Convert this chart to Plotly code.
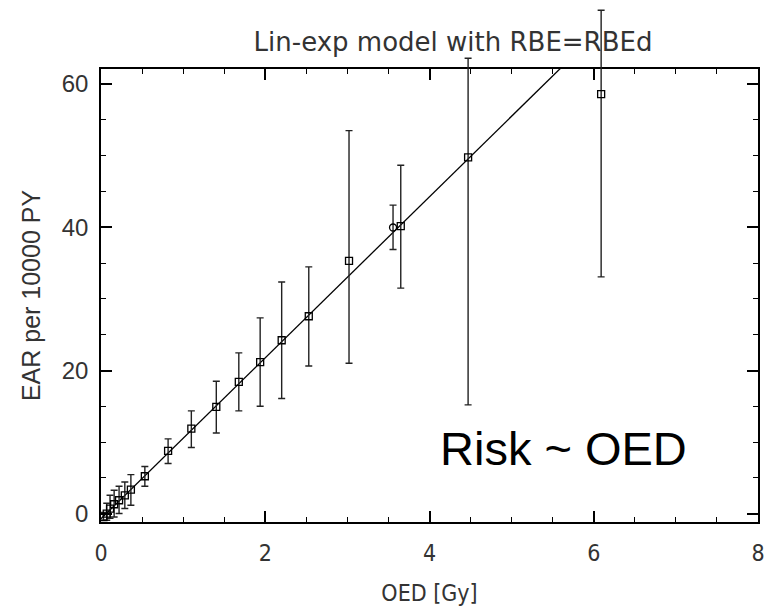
import plotly.graph_objects as go

# ---- data ----
oed = [0.03, 0.07, 0.11, 0.16, 0.22, 0.29, 0.364, 0.534, 0.817, 1.10, 1.404,
       1.678, 1.938, 2.20, 2.53, 3.02, 3.556, 3.65, 4.47, 6.09]
ear = [-0.45, 0.03, 0.72, 1.33, 1.89, 2.58, 3.38, 5.24, 8.77, 11.9, 14.92,
       18.41, 21.16, 24.23, 27.58, 35.31, 39.97, 40.15, 49.75, 58.6]
ear_hi = [0.2, 1.47, 2.58, 3.28, 3.84, 4.44, 5.47, 6.6, 10.45, 14.36, 18.5,
          22.46, 27.35, 32.37, 34.47, 53.5, 43.1, 48.67, 63.6, 70.3]
ear_lo = [-0.9, -0.9, -0.63, -0.45, 0.03, 0.73, 1.19, 3.84, 7.01, 9.25, 11.28,
          14.36, 15.01, 16.09, 20.64, 21.02, 36.9, 31.5, 15.2, 33.07]
symbols = ["square-open"] * 16 + ["circle-open"] + ["square-open"] * 3

fit_x = [0.0, 5.8]
fit_y = [-0.7, 64.5]

x_ticks = [0, 2, 4, 6, 8]
y_ticks = [0, 20, 40, 60]

X_RANGE = [0, 8]
Y_RANGE = [-1.15, 62.1]

# ---- layout geometry ----
W, H = 765, 614
M_L, M_R, M_B = 101, 5, 92
PLOT_TOP = 69  # px from top where the framed plot area begins
dom_top = (H - M_B - PLOT_TOP) / (H - M_B)
# second (invisible) y axis with identical scale, reaching to the top of the
# page so that long error bars may run above the frame as in the reference
y2_range = [Y_RANGE[0], Y_RANGE[0] + (Y_RANGE[1] - Y_RANGE[0]) / dom_top]

err_plus = [h - v for h, v in zip(ear_hi, ear)]
err_minus = [v - l for v, l in zip(ear, ear_lo)]

fig = go.Figure()
fig.add_trace(go.Scatter(
    x=fit_x, y=fit_y, mode="lines", xaxis="x", yaxis="y",
    line=dict(color="black", width=1.3), showlegend=False, hoverinfo="skip"))
fig.add_trace(go.Scatter(
    x=oed, y=ear, mode="markers", xaxis="x", yaxis="y2",
    marker=dict(symbol=symbols, size=7, color="black",
                line=dict(color="black", width=1.3)),
    error_y=dict(type="data", symmetric=False, array=err_plus,
                 arrayminus=err_minus, color="#222", thickness=1.4, width=3.5),
    showlegend=False))

fig.add_annotation(x=5.63, y=9.1, xref="x", yref="y", text="Risk ~ OED",
                   showarrow=False,
                   font=dict(family="Liberation Sans, Arial", size=47, color="black"))

axis_common = dict(showline=True, linecolor="black", linewidth=1.5,
                   mirror="ticks", ticks="inside", tickcolor="black",
                   tickwidth=1.5, ticklen=11, showgrid=False, zeroline=False,
                   ticklabeloverflow="allow")

fig.update_layout(
    width=W, height=H,
    margin=dict(l=M_L, r=M_R, t=0, b=M_B),
    paper_bgcolor="white", plot_bgcolor="rgba(0,0,0,0)",
    title=dict(text="Lin-exp model with RBE=RBEd", x=453 / W, xanchor="center",
               y=1 - 42 / H, yanchor="middle", yref="container",
               font=dict(family="DejaVu Sans ExtraLight, DejaVu Sans", size=26,
                         color="#333")),
    xaxis=dict(range=X_RANGE, tickvals=x_ticks, anchor="y",
               minor=dict(ticks="inside", dtick=0.5, ticklen=5, tickcolor="black",
                          tickwidth=1.2),
               tickfont=dict(family="DejaVu Sans Condensed, DejaVu Sans", size=23,
                             color="#333"),
               ticklabelstandoff=10,
               title=dict(text="OED [Gy]", standoff=20,
                          font=dict(family="DejaVu Sans Condensed, DejaVu Sans",
                                    size=23, color="#333")),
               **axis_common),
    yaxis=dict(range=Y_RANGE, tickvals=y_ticks, domain=[0, dom_top], anchor="x",
               minor=dict(ticks="inside", dtick=5, ticklen=5, tickcolor="black",
                          tickwidth=1.2),
               tickfont=dict(family="Liberation Sans, Arial", size=24, color="#333"),
               ticklabelstandoff=6,
               title=dict(text="EAR per 10000 PY", standoff=14,
                          font=dict(family="Liberation Sans, Arial", size=25,
                                    color="#333")),
               **axis_common),
    yaxis2=dict(range=y2_range, domain=[0, 1], anchor="x", visible=False,
                showgrid=False, zeroline=False),
)

fig.write_html("out.html")
